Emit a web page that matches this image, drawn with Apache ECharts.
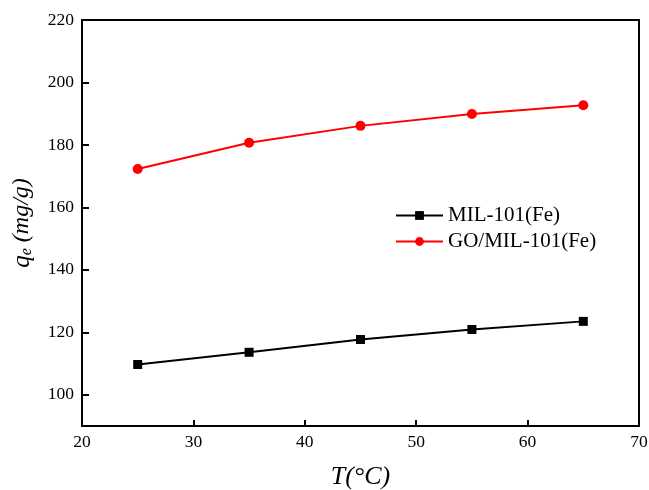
<!DOCTYPE html>
<html><head><meta charset="utf-8">
<script src="https://cdn.jsdelivr.net/npm/echarts@6/dist/echarts.min.js"></script>
<style>html,body{margin:0;padding:0;background:#fff}#c{width:649px;height:490px}</style>
</head><body><div id="c"></div>
<script>
const temps = [25, 35, 45, 55, 65];
const mil = [109.7, 113.6, 117.7, 120.9, 123.5];
const goMil = [172.3, 180.7, 186.1, 189.9, 192.7];
const seriesNames = ['MIL-101(Fe)', 'GO/MIL-101(Fe)'];
const yTicks = [100, 120, 140, 160, 180, 200, 220];
const font = 'Liberation Serif, Times New Roman, serif';
const chart = echarts.init(document.getElementById('c'));
const axLine = {show: true, lineStyle: {color: '#000', width: 2}};
chart.setOption({
  animation: false,
  grid: {left: 82, right: 10, top: 20, bottom: 64, outerBoundsMode: 'none', containLabel: false},
  legend: {
    data: seriesNames, orient: 'vertical', left: 390, top: 200, itemGap: 5,
    itemWidth: 47, itemHeight: 11,
    textStyle: {fontFamily: font, fontSize: 21, color: '#000'}
  },
  xAxis: [{
    type: 'value', min: 20, max: 70, interval: 10,
    axisLine: axLine,
    axisTick: {show: true, inside: true, length: 6, lineStyle: {width: 2, color: '#000'}},
    axisLabel: {fontFamily: font, fontSize: 17.5, color: '#000', margin: 7},
    splitLine: {show: false},
    name: 'T(°C)', nameLocation: 'middle', nameGap: 38,
    nameTextStyle: {fontFamily: font, fontSize: 26, fontStyle: 'italic', color: '#000'}
  }, {
    type: 'value', position: 'top', min: 20, max: 70,
    axisLine: axLine, axisTick: {show: false}, axisLabel: {show: false}, splitLine: {show: false}
  }],
  yAxis: [{
    type: 'value', min: 90, max: 220,
    axisLine: axLine,
    axisTick: {show: true, inside: true, length: 7, customValues: yTicks, lineStyle: {width: 2, color: '#000'}},
    axisLabel: {fontFamily: font, fontSize: 17.5, color: '#000', margin: 8, customValues: yTicks},
    splitLine: {show: false},
    name: '{q|q}{e|e}{n| (mg/g)}', nameLocation: 'middle', nameGap: 47,
    nameTextStyle: {
      rich: {
        q: {fontFamily: font, fontSize: 25, fontStyle: 'italic', color: '#000'},
        e: {fontFamily: font, fontSize: 16, fontStyle: 'italic', color: '#000', verticalAlign: 'bottom', padding: [10, 0, 0, 0]},
        n: {fontFamily: font, fontSize: 24, fontStyle: 'italic', color: '#000'}
      }
    }
  }, {
    type: 'value', position: 'right', min: 90, max: 220,
    axisLine: axLine, axisTick: {show: false}, axisLabel: {show: false}, splitLine: {show: false}
  }],
  series: [{
    name: seriesNames[0], type: 'line',
    data: temps.map((t, i) => [t, mil[i]]),
    symbol: 'rect', symbolSize: 9,
    itemStyle: {color: '#000'}, lineStyle: {color: '#000', width: 2}
  }, {
    name: seriesNames[1], type: 'line',
    data: temps.map((t, i) => [t, goMil[i]]),
    symbol: 'circle', symbolSize: 10,
    itemStyle: {color: '#ff0000'}, lineStyle: {color: '#ff0000', width: 2}
  }]
});
</script></body></html>
